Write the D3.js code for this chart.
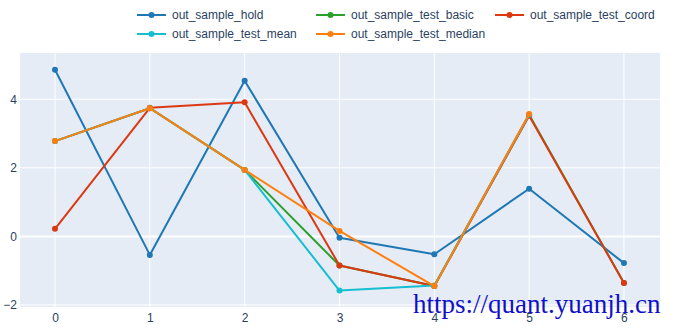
<!DOCTYPE html>
<html>
<head>
<meta charset="utf-8">
<script src="https://cdn.jsdelivr.net/npm/d3@7"></script>
<style>
  body { margin: 0; background: #fff; }
  text { font-family: "Liberation Sans", Arial, sans-serif; }
</style>
</head>
<body>
<div id="chart"></div>
<script>
// data
const xs = [0, 1, 2, 3, 4, 5, 6];
const outSampleHold = [4.86, -0.54, 4.54, -0.04, -0.52, 1.39, -0.78];
const outSampleTestBasic = [2.78, 3.74, 1.94, -0.85, -1.45, 3.55, -1.36];
const outSampleTestCoord = [0.22, 3.75, 3.91, -0.85, -1.45, 3.52, -1.36];
const outSampleTestMean = [2.78, 3.74, 1.94, -1.58, -1.43, 3.55, null];
const outSampleTestMedian = [2.78, 3.74, 1.94, 0.16, -1.45, 3.57, null];
const xTicks = [0, 1, 2, 3, 4, 5, 6];
const yTicks = [-2, 0, 2, 4];

const series = [
  { name: 'out_sample_hold', values: outSampleHold, color: '#1f77b4' },
  { name: 'out_sample_test_basic', values: outSampleTestBasic, color: '#2ca02c' },
  { name: 'out_sample_test_coord', values: outSampleTestCoord, color: '#dc3912' },
  { name: 'out_sample_test_mean', values: outSampleTestMean, color: '#17becf' },
  { name: 'out_sample_test_median', values: outSampleTestMedian, color: '#ff7f0e' }
];

const width = 677, height = 330;
const plot = { left: 20, right: 660, top: 53, bottom: 307 };

const svg = d3.select('#chart').append('svg')
  .attr('width', width).attr('height', height);
svg.append('rect').attr('width', width).attr('height', height).attr('fill', '#fff');

const x = d3.scaleLinear().domain([-0.369, 6.38]).range([plot.left, plot.right]);
const y = d3.scaleLinear().domain([-2.06, 5.35]).range([plot.bottom, plot.top]);

svg.append('rect')
  .attr('x', plot.left).attr('y', plot.top)
  .attr('width', plot.right - plot.left).attr('height', plot.bottom - plot.top)
  .attr('fill', '#e5ecf6');

// grid
const grid = svg.append('g');
grid.selectAll('line.vx').data(xTicks).enter().append('line')
  .attr('x1', d => x(d)).attr('x2', d => x(d))
  .attr('y1', plot.top).attr('y2', plot.bottom)
  .attr('stroke', '#fff').attr('stroke-width', 1);
grid.selectAll('line.hy').data(yTicks).enter().append('line')
  .attr('x1', plot.left).attr('x2', plot.right)
  .attr('y1', d => y(d)).attr('y2', d => y(d))
  .attr('stroke', '#fff').attr('stroke-width', d => d === 0 ? 2 : 1);

// axes (labels only)
const xAxis = svg.append('g').attr('transform', 'translate(0,' + plot.bottom + ')')
  .call(d3.axisBottom(x).tickValues(xTicks).tickSize(0).tickPadding(6).tickFormat(d3.format('d')));
const yAxis = svg.append('g').attr('transform', 'translate(' + plot.left + ',0)')
  .call(d3.axisLeft(y).tickValues(yTicks).tickSize(0).tickPadding(3).tickFormat(d => d < 0 ? '\u2212' + Math.abs(d) : d));
[xAxis, yAxis].forEach(a => {
  a.select('.domain').remove();
  a.selectAll('text').attr('fill', '#2a3f5f').style('font-size', '12px')
    .style('font-family', '"Liberation Sans", Arial, sans-serif');
});

// lines
const line = d3.line()
  .defined(d => d[1] != null)
  .x(d => x(d[0])).y(d => y(d[1]));

series.forEach(s => {
  const pts = xs.map((v, i) => [v, s.values[i]]);
  const g = svg.append('g');
  g.append('path').datum(pts).attr('d', line)
    .attr('fill', 'none').attr('stroke', s.color).attr('stroke-width', 2)
    .attr('stroke-linejoin', 'round');
  g.selectAll('circle').data(pts.filter(d => d[1] != null)).enter().append('circle')
    .attr('cx', d => x(d[0])).attr('cy', d => y(d[1])).attr('r', 3)
    .attr('fill', s.color);
});

// legend
const legendPos = [[137, 15], [316, 15], [495, 15], [137, 34], [316, 34]];
const legend = svg.append('g');
series.forEach((s, k) => {
  const [lx, ly] = legendPos[k];
  const item = legend.append('g').attr('transform', 'translate(' + lx + ',' + ly + ')');
  item.append('line').attr('x1', 0).attr('x2', 29).attr('y1', 0).attr('y2', 0)
    .attr('stroke', s.color).attr('stroke-width', 2);
  item.append('circle').attr('cx', 14.5).attr('cy', 0).attr('r', 3).attr('fill', s.color);
  item.append('text').attr('x', 35).attr('y', 0).attr('dy', '0.35em')
    .attr('fill', '#2a3f5f').style('font-size', '12px').text(s.name);
});

// watermark
svg.append('text')
  .attr('x', 413).attr('y', 313)
  .style('font-family', '"Liberation Serif", "Times New Roman", serif')
  .style('font-size', '27px')
  .attr('fill', '#1010c8')
  .text('https://quant.yuanjh.cn');
</script>
</body>
</html>
